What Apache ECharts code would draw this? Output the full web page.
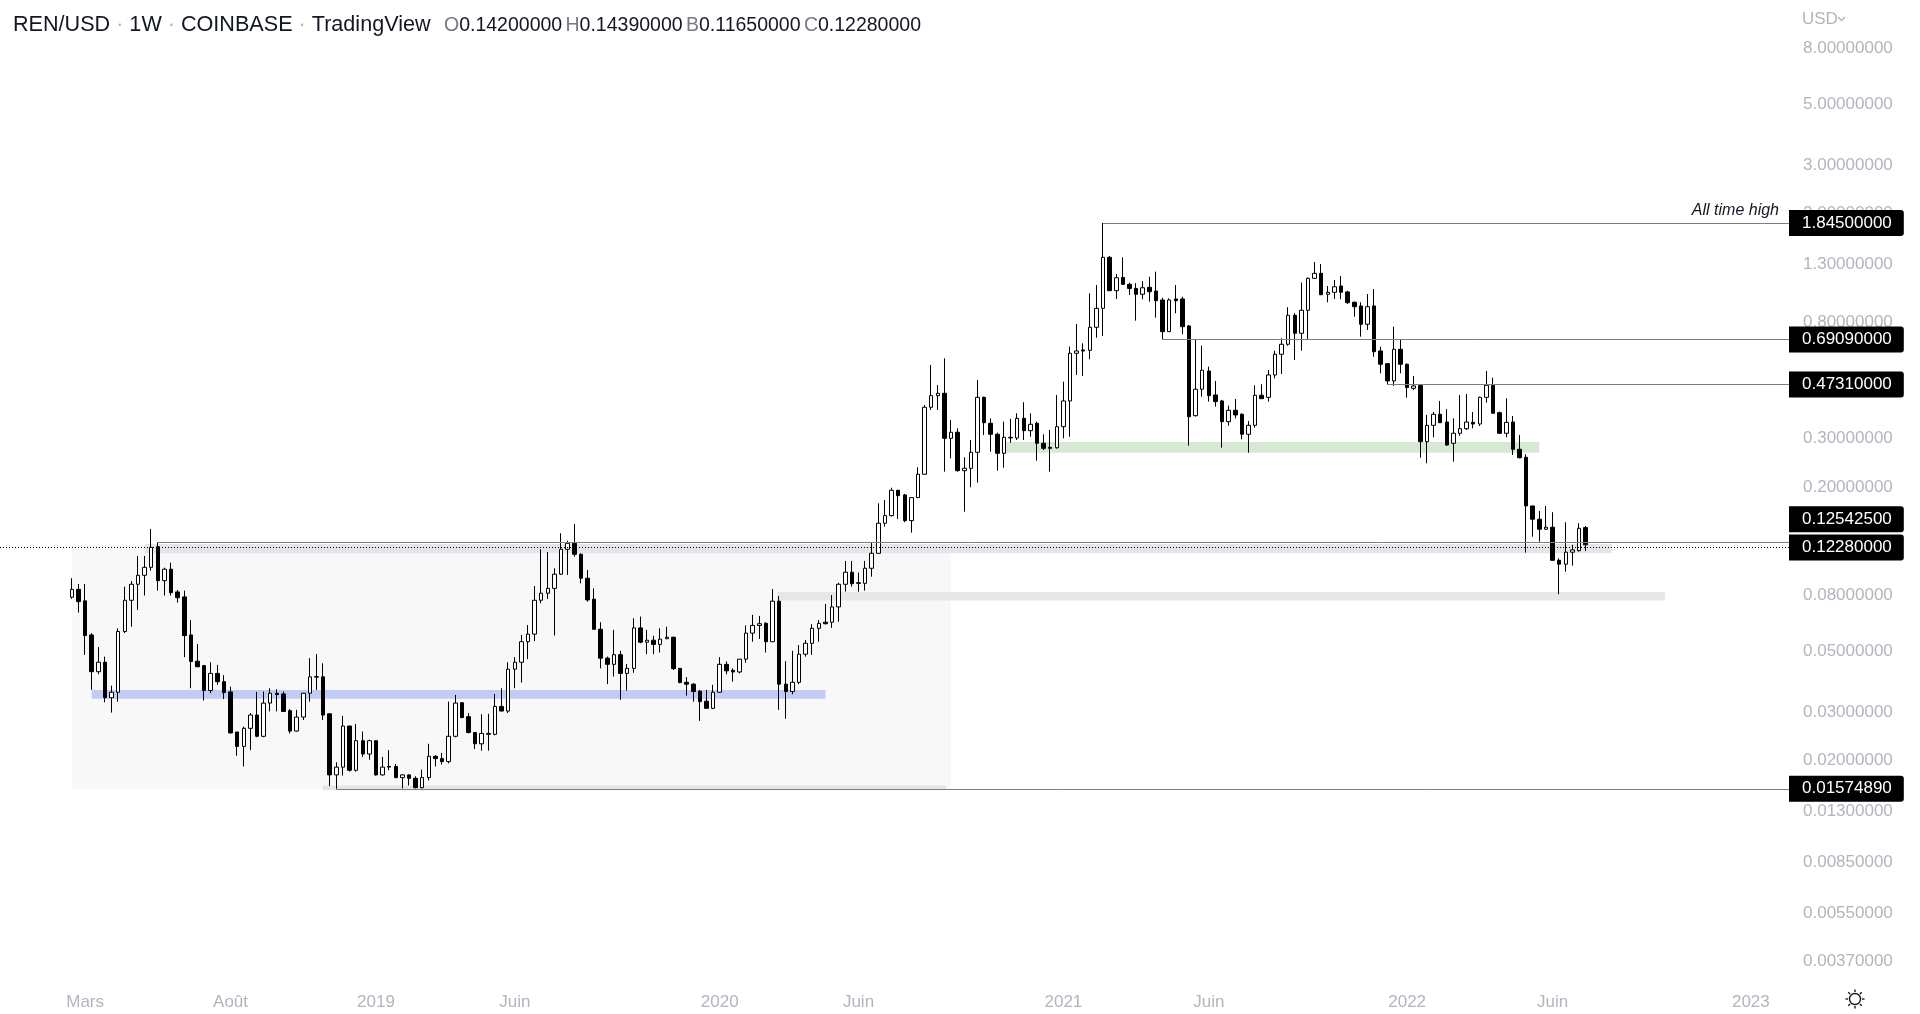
<!DOCTYPE html>
<html><head><meta charset="utf-8">
<script src="https://cdn.jsdelivr.net/npm/echarts@6/dist/echarts.min.js"></script>
<style>html,body{margin:0;padding:0;background:#fff;}#c{width:1920px;height:1014px;}</style>
</head><body><div id="c"></div>
<script>
// ---------- DATA ----------
const FIRST_WEEK = '2018-02-19'; // weekly candles, one per Monday
const open = [
.0790,.0844,.0766,.0575,.0422,.0457,.0339,.0355,.0592,.0770,
.0881,.0950,.1016,.1209,.0908,.1000,.0826,.0792,.0575,.0461,
.0444,.0360,.0416,.0388,.0356,.0254,.0225,.0262,.0293,.0245,
.0324,.0352,.0350,.0304,.0256,.0288,.0352,.0403,.0404,.0296,
.0177,.0189,.0267,.0184,.0236,.0211,.0236,.0177,.0190,.0190,
.0173,.0177,.0172,.0159,.0173,.0207,.0203,.0198,.0245,.0325,
.0289,.0253,.0230,.0249,.0249,.0315,.0303,.0431,.0457,.0543,
.0579,.0770,.0817,.0851,.0959,.1183,.1244,.1134,.0927,.0777,
.0603,.0473,.0449,.0487,.0416,.0434,.0610,.0541,.0550,.0531,
.0557,.0564,.0434,.0386,.0380,.0358,.0329,.0310,.0355,.0449,
.0427,.0421,.0469,.0584,.0623,.0634,.0543,.0764,.0380,.0357,
.0386,.0489,.0536,.0608,.0640,.0640,.0728,.0881,.0975,.0892,
.0888,.1008,.1143,.1473,.1570,.1944,.1869,.1505,.1827,.2224,
.3909,.4309,.4397,.3009,.3167,.2292,.2338,.2676,.4250,.3416,
.3114,.2653,.3019,.3019,.3561,.3210,.3416,.2887,.2790,.2780,
.3319,.4122,.6158,.6331,.6312,.7665,.8989,1.381,1.043,1.166,
1.100,1.063,1.012,1.073,1.040,.9645,.7388,.9725,.9725,.7750,
.3642,.4551,.5306,.4335,.4122,.3462,.3811,.3685,.3114,.3358,
.4324,.4250,.5131,.6106,.6643,.8480,.7288,.8844,1.157,1.207,
1.012,1.029,1.085,1.032,.9462,.9171,.7862,.9171,.6278,.5642,
.4878,.6369,.5614,.4585,.4690,.2926,.3358,.3685,.3453,.2887,
.3140,.3263,.3442,.3396,.4250,.4703,.3735,.3140,.3453,.2744,
.2565,.1703,.1523,.1400,.1424,.1078,.1043,.1154,.1169,.1420];
const high = [
.0927,.0883,.0883,.0584,.0519,.0479,.0375,.0608,.0863,.0905,
.1118,.1118,.1404,.1254,.1013,.1057,.0840,.0835,.0652,.0533,
.0447,.0457,.0447,.0410,.0372,.0254,.0266,.0298,.0356,.0357,
.0367,.0364,.0357,.0308,.0306,.0353,.0473,.0490,.0453,.0297,
.0197,.0291,.0268,.0272,.0255,.0238,.0237,.0206,.0218,.0194,
.0178,.0178,.0175,.0185,.0230,.0209,.0213,.0328,.0347,.0327,
.0298,.0254,.0295,.0296,.0350,.0367,.0457,.0477,.0575,.0625,
.0868,.1183,.1156,.1008,.1353,.1271,.1464,.1143,.0994,.0851,
.0640,.0479,.0600,.0503,.0450,.0662,.0671,.0600,.0571,.0608,
.0616,.0567,.0435,.0403,.0383,.0362,.0362,.0378,.0477,.0460,
.0434,.0470,.0623,.0681,.0675,.0640,.0846,.0799,.0461,.0503,
.0528,.0551,.0630,.0652,.0746,.0805,.0892,.1072,.1072,.0972,
.1072,.1250,.1742,.1791,.1986,.1945,.1884,.1830,.2358,.3986,
.5581,.4716,.5901,.3512,.3274,.2565,.2968,.4919,.4272,.3561,
.3156,.3462,.3543,.3716,.4078,.3716,.3462,.3114,.3229,.4335,
.4850,.6509,.7881,.6699,1.020,1.094,1.845,1.397,1.200,1.381,
1.115,1.110,1.131,1.173,1.224,.9829,.9777,1.094,.9913,.7815,
.6888,.6566,.5501,.4878,.4157,.3962,.4191,.3716,.3483,.4703,
.4744,.5351,.6294,.6984,.9071,.8623,1.115,1.166,1.328,1.306,
1.085,1.141,1.180,1.043,.951,.9462,1.014,1.058,.6509,.5650,
.7702,.6888,.5650,.5088,.4716,.3664,.3757,.4122,.3845,.3561,
.4335,.4371,.3757,.4272,.5306,.5014,.3767,.4216,.3633,.3096,
.2631,.1705,.1633,.1703,.1616,.1096,.1485,.1228,.1473,.1439];
const low = [
.0779,.0694,.0486,.0362,.0413,.0326,.0299,.0328,.0584,.0616,
.0710,.0801,.0988,.0835,.0801,.0801,.0755,.0477,.0367,.0438,
.0331,.0352,.0378,.0335,.0251,.0208,.0190,.0218,.0243,.0243,
.0302,.0302,.0301,.0251,.0255,.0281,.0328,.0362,.0281,.0161,
.01575,.0176,.0182,.0182,.0206,.0201,.0176,.0176,.0184,.0172,
.0158,.0162,.0158,.0158,.0169,.0190,.0193,.0195,.0243,.0285,
.0251,.0220,.0217,.0217,.0247,.0302,.0298,.0367,.0385,.0469,
.0546,.0751,.0779,.0572,.0953,.0953,.1111,.0888,.0761,.0602,
.0434,.0380,.0405,.0333,.0360,.0418,.0536,.0489,.0489,.0496,
.0555,.0428,.0383,.0345,.0328,.0279,.0309,.0308,.0354,.0413,
.0388,.0416,.0455,.0543,.0556,.0496,.0542,.0306,.0284,.0349,
.0380,.0479,.0486,.0543,.0628,.0610,.0643,.0828,.0863,.0828,
.0835,.0939,.1140,.1431,.1557,.1524,.1485,.1360,.1820,.2220,
.3821,.3821,.2273,.2543,.2273,.1624,.1993,.2072,.3096,.2689,
.2292,.2350,.2901,.2968,.2968,.3051,.2493,.2728,.2273,.2760,
.3009,.3051,.5131,.5088,.5856,.7021,.7124,1.040,.9725,1.098,
1.006,.8103,.9706,.951,.8308,.6909,.7380,.8623,.7227,.2829,
.3611,.4272,.4099,.3928,.2781,.3347,.3561,.2986,.2667,.3291,
.4191,.4099,.4987,.5174,.6566,.5821,.6294,.6910,1.153,1.005,
.9462,.9725,.9706,.9326,.8379,.7081,.7493,.5982,.5205,.4731,
.4677,.5205,.4236,.4521,.2556,.2439,.3035,.3425,.2822,.2473,
.3077,.3229,.3274,.3339,.4064,.3710,.3135,.3035,.2616,.2543,
.1150,.1315,.1261,.1391,.1075,.0810,.0980,.1030,.1160,.1165];
const close = [
.0844,.0761,.0572,.0422,.0457,.0339,.0355,.0592,.0770,.0881,
.0950,.1016,.1202,.0908,.1000,.0821,.0787,.0572,.0460,.0440,
.0360,.0416,.0388,.0354,.0252,.0225,.0262,.0293,.0245,.0324,
.0352,.0348,.0302,.0256,.0288,.0352,.0404,.0405,.0293,.0177,
.0189,.0267,.0184,.0236,.0211,.0236,.0177,.0189,.0189,.0173,
.0177,.0172,.0159,.0173,.0207,.0203,.0198,.0245,.0324,.0287,
.0253,.0230,.0251,.0251,.0315,.0303,.0431,.0457,.0543,.0579,
.0770,.0817,.0851,.0959,.1183,.1244,.1134,.0927,.0772,.0603,
.0473,.0449,.0487,.0416,.0434,.0610,.0541,.0550,.0531,.0555,
.0564,.0433,.0385,.0380,.0357,.0328,.0310,.0355,.0449,.0425,
.0421,.0469,.0584,.0623,.0632,.0543,.0764,.0380,.0357,.0386,
.0489,.0536,.0608,.0634,.0632,.0728,.0881,.0975,.0885,.0888,
.1008,.1143,.1473,.1570,.1944,.1857,.1505,.1827,.2224,.3909,
.4309,.4397,.3009,.3167,.2292,.2338,.2676,.4250,.3433,.3114,
.2653,.3035,.3035,.3561,.3210,.3387,.2887,.2766,.2766,.3319,
.4122,.6158,.6278,.6278,.7665,.8989,1.381,1.043,1.163,1.100,
1.063,1.012,1.069,1.034,.9588,.7388,.9645,.9588,.7702,.3611,
.4551,.5338,.4309,.4099,.3462,.3811,.3664,.3114,.3358,.4324,
.4202,.5131,.6106,.6643,.8480,.7288,.8844,1.157,1.207,1.008,
1.029,1.078,1.029,.9428,.9115,.7862,.9115,.6242,.5614,.4878,
.6369,.5614,.4612,.4677,.2926,.3358,.3685,.3433,.2846,.3140,
.3263,.3453,.3396,.4250,.4703,.3716,.3140,.3442,.2744,.2556,
.1703,.1523,.1400,.1424,.1078,.1043,.1154,.1176,.1411,.1228];

// price-axis tick labels and time-axis labels
const yTickValues = [8, 5, 3, 2, 1.3, 0.8, 0.3, 0.2, 0.08, 0.05, 0.03, 0.02, 0.013, 0.0085, 0.0055, 0.0037];
const xTickDates  = ['2018-03-05','2018-08-06','2019-01-07','2019-06-03','2020-01-06','2020-06-01','2021-01-04','2021-06-07','2022-01-03','2022-06-06','2023-01-02'];
const xTickLabels = ['Mars','Août','2019','Juin','2020','Juin','2021','Juin','2022','Juin','2023'];

// horizontal rays drawn on the chart (start week, price)
const levelFrom  = ['2021-02-15','2021-04-19','2021-12-13','2018-05-21','2018-11-26'];
const levelPrice = [1.845, 0.6909, 0.4731, 0.125425, 0.0157489];

// shaded rectangles: [fromDate, toDate, priceTop, priceBottom]
const zoneLight  = ['2018-02-19','2020-09-07',0.1225,0.01575];
const zoneTop    = ['2018-05-07','2022-08-08',0.1237,0.1143];
const zoneBlue   = ['2018-03-12','2020-04-27',0.0362,0.0336];
const zoneGray   = ['2020-03-07','2022-10-03',0.0826,0.0768];
const zoneBottom = ['2018-11-12','2020-09-02',0.0162,0.01555];
const zoneGreen  = ['2020-11-04','2022-05-23',0.2918,0.2667];

// ---------- CHART ----------
const WEEK = 7 * 86400000;
const t0 = Date.parse(FIRST_WEEK);
const candles = open.map((o, i) => [t0 + i * WEEK, o, close[i], low[i], high[i]]);
const last = open.length - 1;

const anchor = Date.parse('2019-01-07');
const xMin = anchor - 56.88 * WEEK;
const xMax = anchor + 213.77 * WEEK;
const yMax = 12.05, yMin = 0.003019;

const F = "'Liberation Sans', Arial, sans-serif";
const AX = '#b2b5be';
const fmt = v => Number(v).toFixed(8);

function zone(z, color) {
  return [{coord: [Date.parse(z[0]), z[2]], itemStyle: {color}}, {coord: [Date.parse(z[1]), z[3]]}];
}
const boxLabel = (txt, dy) => ({
  show: true, position: 'end', distance: 0, formatter: txt,
  color: '#fff', backgroundColor: '#000', fontFamily: F, fontSize: 17,
  padding: [5, 12, 4, 13], borderRadius: [0, 3, 3, 0], offset: [0, dy || 0]
});

const markLines = levelPrice.map((p, i) => [
  {coord: [Date.parse(levelFrom[i]), p], lineStyle: {color: '#7f7f7f', width: 1, type: 'solid'},
   label: boxLabel(fmt(p), p === 0.125425 ? -23 : 0)},
  {coord: [xMax, p]}
]);
markLines.push({yAxis: close[last], lineStyle: {color: '#000', width: 1, type: [1, 2]}, label: boxLabel(fmt(close[last]), 0)});

const chart = echarts.init(document.getElementById('c'), null, {renderer: 'canvas'});
chart.setOption({
  animation: false,
  backgroundColor: '#ffffff',
  grid: {left: 0, right: 131, top: 0, bottom: 29, containLabel: false},
  xAxis: {
    type: 'value', min: xMin, max: xMax,
    axisLine: {show: false}, axisTick: {show: false}, splitLine: {show: false},
    axisLabel: {
      customValues: xTickDates.map(d => Date.parse(d)),
      formatter: v => { const k = xTickDates.findIndex(d => Math.abs(Date.parse(d) - v) < 86400000); return k >= 0 ? xTickLabels[k] : ''; },
      color: AX, fontFamily: F, fontSize: 17, margin: 9
    }
  },
  yAxis: {
    type: 'log', logBase: 10, min: yMin, max: yMax, position: 'right',
    axisLine: {show: false}, axisTick: {show: false}, splitLine: {show: false},
    axisLabel: {customValues: yTickValues, formatter: v => fmt(v), color: AX, fontFamily: F, fontSize: 17, margin: 14, align: 'left'}
  },
  series: [{
    type: 'candlestick',
    data: candles,
    barWidth: 4,
    itemStyle: {color: '#ffffff', color0: '#000000', borderColor: '#000000', borderColor0: '#000000', borderColorDoji: '#000000', borderWidth: 1},
    markArea: {
      silent: true,
      data: [
        zone(zoneLight, '#f8f8f8'),
        zone(zoneTop, '#e4e5e9'),
        zone(zoneBlue, '#c2cbf4'),
        zone(zoneGray, '#e7e7e9'),
        zone(zoneBottom, '#e4e5e9'),
        zone(zoneGreen, '#d5e9d3')
      ]
    },
    markLine: {silent: true, symbol: ['none', 'none'], data: markLines},
    markPoint: {
      silent: true, symbol: 'circle', symbolSize: 0,
      data: [{coord: [xMax, levelPrice[0]], label: {show: true, position: 'top', align: 'right', offset: [-10, 0], distance: 4,
        formatter: 'All time high', color: '#131722', fontStyle: 'italic', fontFamily: F, fontSize: 16}}]
    }
  }],
  graphic: [
    {type: 'text', x: 13, y: 25, style: {
      text: '{t|REN/USD}{d| · }{t|1W}{d| · }{t|COINBASE}{d| · }{t|TradingView}',
      verticalAlign: 'middle',
      rich: {t: {fontFamily: F, fontSize: 21.6, fill: '#131722'}, d: {fontFamily: F, fontSize: 21.6, fill: '#b2b5be'}}
    }},
    {type: 'text', x: 444, y: 26, style: {
      text: '{l|O}{v|' + fmt(open[last]) + '} {l|H}{v|' + fmt(high[last]) + '} {l|B}{v|' + fmt(low[last]) + '} {l|C}{v|' + fmt(close[last]) + '}',
      verticalAlign: 'middle',
      rich: {l: {fontFamily: F, fontSize: 19.5, fill: '#787b86'}, v: {fontFamily: F, fontSize: 19.5, fill: '#131722'}}
    }},
    {type: 'text', x: 1802, y: 19, style: {text: 'USD', fill: AX, fontFamily: F, fontSize: 17, verticalAlign: 'middle'}},
    {type: 'polyline', shape: {points: [[1838, 17], [1841.5, 20.5], [1845, 17]]}, style: {stroke: AX, lineWidth: 1.5, fill: null}},
    {type: 'group', x: 1855, y: 999, children: [
      {type: 'circle', shape: {cx: 0, cy: 0, r: 5.5}, style: {stroke: '#131722', lineWidth: 1.4, fill: null}},
      ...[0, 45, 90, 135, 180, 225, 270, 315].map(a => {
        const r = a * Math.PI / 180;
        return {type: 'line', shape: {x1: Math.cos(r) * 7, y1: Math.sin(r) * 7, x2: Math.cos(r) * 9.5, y2: Math.sin(r) * 9.5}, style: {stroke: '#131722', lineWidth: 1.4}};
      })
    ]}
  ]
});
</script></body></html>
